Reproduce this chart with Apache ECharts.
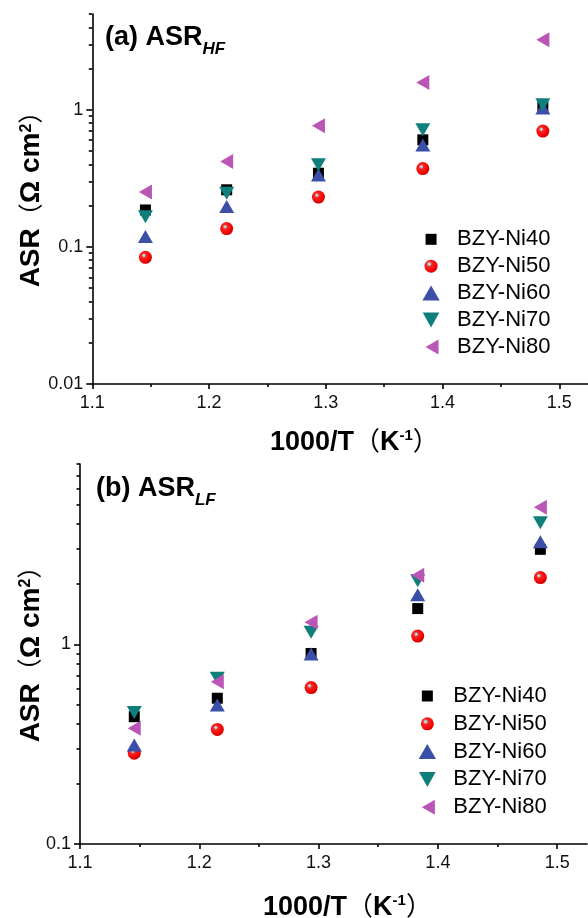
<!DOCTYPE html>
<html>
<head>
<meta charset="utf-8">
<script src="https://cdn.jsdelivr.net/npm/echarts@6/dist/echarts.min.js"></script>
<style>html,body{margin:0;padding:0;background:#fff}#c{width:588px;height:918px}</style>
</head>
<body>
<div id="c"></div>
<script>
// ---- data ----
const seriesNames = ['BZY-Ni40', 'BZY-Ni50', 'BZY-Ni60', 'BZY-Ni70', 'BZY-Ni80'];
const invT = [1.1455, 1.2151, 1.2937, 1.3831, 1.4859];
// (a) ASR_HF
const ni40HF = [0.186, 0.261, 0.345, 0.604, 1.05];
const ni50HF = [0.084, 0.136, 0.231, 0.373, 0.70];
const ni60HF = [0.119, 0.197, 0.335, 0.555, 1.03];
const ni70HF = [0.166, 0.246, 0.397, 0.715, 1.09];
const ni80HF = [0.251, 0.42, 0.764, 1.58, 3.24];
// (b) ASR_LF
const ni40LF = [0.434, 0.537, 0.90, 1.51, 2.99];
const ni50LF = [0.285, 0.375, 0.607, 1.10, 2.16];
const ni60LF = [0.313, 0.497, 0.894, 1.77, 3.26];
const ni70LF = [0.455, 0.676, 1.15, 2.08, 4.06];
const ni80LF = [0.380, 0.650, 1.29, 2.22, 4.86];
// ticks
const xMajor = [1.1, 1.2, 1.3, 1.4, 1.5];
const xMinor = [1.15, 1.25, 1.35, 1.45];
const yMajorA = [0.01, 0.1, 1];
const yMinorA = [0.02,0.03,0.04,0.05,0.06,0.07,0.08,0.09,0.2,0.3,0.4,0.5,0.6,0.7,0.8,0.9,2,3,4,5];
const yMajorB = [0.1, 1];
const yMinorB = [0.2,0.3,0.4,0.5,0.6,0.7,0.8,0.9,2,3,4,5,6,7,8];

const FONT = '"Liberation Sans", Arial, "Noto Sans CJK SC", sans-serif';
const sphere = {
  type: 'radial', x: 0.38, y: 0.36, r: 0.66,
  colorStops: [
    {offset: 0, color: '#f2f2f2'}, {offset: 0.16, color: '#a9a9a9'},
    {offset: 0.27, color: '#ff2424'}, {offset: 0.8, color: '#f00000'}, {offset: 1, color: '#c40000'}
  ]
};
const styles = [
  {symbol: 'rect', size: 11, color: '#000000'},
  {symbol: 'circle', size: 13, color: sphere},
  {symbol: 'path://M7,0 L14,12.5 L0,12.5 Z', size: [15, 13], color: '#3b4ea8'},
  {symbol: 'path://M0,0 L14,0 L7,13 Z', size: [15, 13], color: '#0f7f7b'},
  {symbol: 'path://M0,7 L12.5,0 L12.5,14 Z', size: [13, 15], color: '#bb55b6'}
];
const legendIcons = [
  'path://M0,0 M2,2 L13,2 L13,13 L2,13 Z M15,15',
  'path://M1,7.5 A6.5,6.5 0 1,1 14,7.5 A6.5,6.5 0 1,1 1,7.5 Z M0,0 M15,15',
  'path://M0.5,1 M7.5,1 L15,14 L0,14 Z',
  'path://M0,0.5 L15,0.5 L7.5,14 Z',
  'path://M0,0 M2,7.5 L15,0 L15,15 Z'
];

function mkSeries(arrs, xi, yi) {
  return arrs.map((arr, k) => ({
    name: seriesNames[k], type: 'scatter', xAxisIndex: xi, yAxisIndex: yi,
    symbol: styles[k].symbol, symbolSize: styles[k].size,
    itemStyle: {color: styles[k].color, opacity: 1},
    emphasis: {disabled: true},
    data: invT.map((x, i) => [x, arr[i]])
  }));
}

function xAxes(grid, gap) {
  const base = {type: 'value', gridIndex: grid, min: 1.1, max: 1.525, position: 'bottom',
    splitLine: {show: false}};
  return [
    Object.assign({}, base, {
      axisLine: {show: true, onZero: false, lineStyle: {color: '#000', width: 1.6}},
      axisTick: {show: true, inside: false, length: 5, customValues: xMajor, lineStyle: {color: '#000', width: 1.6}},
      axisLabel: {show: true, customValues: xMajor, margin: 10, color: '#111', fontSize: 18, fontFamily: FONT,
        formatter: v => v.toFixed(1)},
      name: '{b|1000/T}{p|（}{b|K}{sup|-1}{p|）}',
      nameLocation: 'middle', nameGap: gap, nameMoveOverlap: false,
      nameTextStyle: {padding: [0, 0, 0, 28], rich: {
        b: {fontSize: 27, fontWeight: 'bold', fontFamily: FONT, color: '#000', lineHeight: 27, verticalAlign: 'bottom'},
        p: {fontSize: 26, fontWeight: 'normal', fontFamily: FONT, color: '#000', lineHeight: 27, verticalAlign: 'bottom'},
        sup: {fontSize: 15, fontWeight: 'bold', fontFamily: FONT, color: '#000', lineHeight: 15, padding: [0, 0, 13, 0], verticalAlign: 'bottom'}
      }}
    }),
    Object.assign({}, base, {
      axisLine: {show: false}, axisLabel: {show: false},
      axisTick: {show: true, inside: false, length: 3, customValues: xMinor, lineStyle: {color: '#000', width: 1.6}}
    })
  ];
}

function yAxes(grid, max, major, minor, min) {
  const base = {type: 'log', logBase: 10, gridIndex: grid, min: min, max: max, position: 'left',
    splitLine: {show: false}};
  return [
    Object.assign({}, base, {
      axisLine: {show: true, onZero: false, lineStyle: {color: '#000', width: 1.6}},
      axisTick: {show: true, inside: false, length: 6, customValues: major, lineStyle: {color: '#000', width: 1.6}},
      axisLabel: {show: true, customValues: major, margin: 9, color: '#111', fontSize: 18, fontFamily: FONT,
        formatter: v => { const l = Math.round(Math.log10(v)); return l >= 0 ? String(Math.pow(10, l)) : Math.pow(10, l).toFixed(-l); }},
      name: '{b|ASR}{p|（}{b|Ω cm}{sup|2}{p|）}',
      nameLocation: 'middle', nameGap: grid === 0 ? 47 : 35, nameRotate: 90, nameMoveOverlap: false,
      nameTextStyle: {padding: [0, 0, 0, 12], rich: {
        b: {fontSize: 28, fontWeight: 'bold', fontFamily: FONT, color: '#000', lineHeight: 28, verticalAlign: 'bottom'},
        p: {fontSize: 25, fontWeight: 'normal', fontFamily: FONT, color: '#000', lineHeight: 28, verticalAlign: 'bottom'},
        sup: {fontSize: 16, fontWeight: 'bold', fontFamily: FONT, color: '#000', lineHeight: 16, padding: [0, 0, 11, 0], verticalAlign: 'bottom'}
      }}
    }),
    Object.assign({}, base, {
      axisLine: {show: false}, axisLabel: {show: false},
      axisTick: {show: true, inside: false, length: 3.5, customValues: minor, lineStyle: {color: '#000', width: 1.6}}
    })
  ];
}

function mkLegend(left, top, gap) {
  return {
    orient: 'vertical', left: left, top: top, padding: 0, itemGap: gap,
    itemWidth: 42, itemHeight: 15, selectedMode: false,
    textStyle: {fontSize: 22, fontFamily: FONT, color: '#000', lineHeight: 21},
    data: seriesNames.map((n, k) => ({name: n, icon: legendIcons[k]}))
  };
}

const titleRich = {
  m: {fontSize: 27, fontWeight: 'bold', fontFamily: FONT, color: '#000', lineHeight: 27, padding: [0, 0, 7, 0], verticalAlign: 'bottom'},
  s: {fontSize: 17, fontWeight: 'bold', fontStyle: 'italic', fontFamily: FONT, color: '#000', lineHeight: 17, verticalAlign: 'bottom'}
};

const chart = echarts.init(document.getElementById('c'), null, {renderer: 'canvas'});
chart.setOption({
  animation: false,
  backgroundColor: '#ffffff',
  title: [
    {text: '{m|(a) ASR}{s|HF}', left: 105, top: 31, padding: 0, textStyle: {rich: titleRich}},
    {text: '{m|(b) ASR}{s|LF}', left: 96, top: 482, padding: 0, textStyle: {rich: titleRich}}
  ],
  legend: [mkLegend(422.4, 228.3, 4.9), mkLegend(418.7, 685, 5.8)],
  grid: [
    {left: 92.3, top: 14, width: 496.2, height: 370, containLabel: false, outerBoundsMode: 'none'},
    {left: 80, top: 464, width: 507, height: 380, containLabel: false, outerBoundsMode: 'none'}
  ],
  xAxis: [].concat(xAxes(0, 45), xAxes(1, 50)),
  yAxis: [].concat(yAxes(0, 5, yMajorA, yMinorA, 0.01), yAxes(1, 8, yMajorB, yMinorB, 0.1)),
  series: [].concat(
    mkSeries([ni40HF, ni50HF, ni60HF, ni70HF, ni80HF], 0, 0),
    mkSeries([ni40LF, ni50LF, ni60LF, ni70LF, ni80LF], 2, 2)
  )
});
</script>
</body>
</html>
